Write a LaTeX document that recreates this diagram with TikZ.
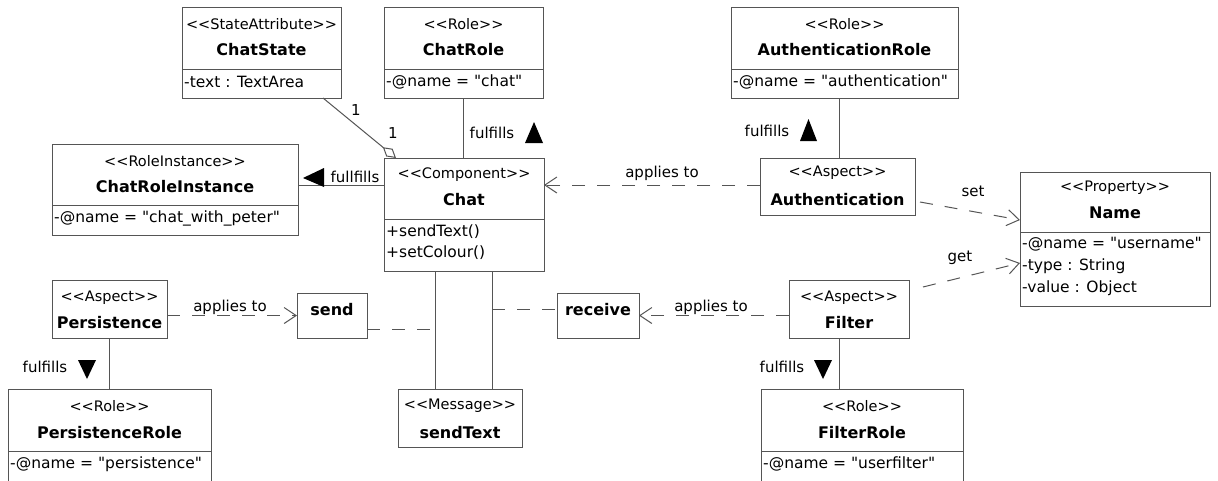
\documentclass[tikz,border=0pt]{standalone}
\usepackage{fontspec}
\setmainfont{DejaVu Sans}[Ligatures=TeXOff]
\usetikzlibrary{arrows.meta,fit,calc}
\definecolor{linec}{HTML}{555555}
\newcommand\ltlt{<\kern0pt<}
\newcommand\gtgt{>\kern0pt>}
\begin{document}
\begin{tikzpicture}[x=1pt,y=-1pt,
  box/.style={draw=linec, line width=1pt, inner sep=0pt, outer sep=0pt},
  st/.style={font=\fontsize{14.5}{16}\selectfont, inner sep=0pt},
  ttl/.style={font=\bfseries\fontsize{16}{18}\selectfont, inner sep=0pt},
  attr/.style={font=\fontsize{15.5}{18}\selectfont, inner sep=0pt, anchor=west},
  lbl/.style={font=\fontsize{15}{17}\selectfont, inner sep=0pt},
  assoc/.style={draw=linec, line width=1pt},
  dashln/.style={draw=linec, line width=1pt, dash pattern=on 13pt off 12pt},
  dep/.style={dashln, -{Straight Barb[length=12pt,width=16pt]}},
  tri/.style={fill=black}]
\useasboundingbox (0,0) rectangle (1218,480);
\fill[white] (0,0) rectangle (1218,480);
\clip (0,0) rectangle (1218,480);

% ---------- boxes ----------
\node[box, fit={(182,7) (341,98)}] (ChatState) {};
\draw[assoc] (ChatState.west |- 0,69) -- (ChatState.east |- 0,69);
\node[st] (ChatState-s) at (261.5,24) {\ltlt StateAttribute\gtgt};
\node[ttl] (ChatState-t) at (261.5,50) {ChatState};
\node[attr] (ChatState-a) at (184,82) {-text : TextArea};

\node[box, fit={(384,7) (543,98)}] (ChatRole) {};
\draw[assoc] (ChatRole.west |- 0,69) -- (ChatRole.east |- 0,69);
\node[st] (ChatRole-s) at (463.5,24) {\ltlt Role\gtgt};
\node[ttl] (ChatRole-t) at (463.5,50) {ChatRole};
\node[attr] (ChatRole-a) at (386,82) {-@name = "chat"};

\node[box, fit={(731,7) (958,98)}] (AuthRole) {};
\draw[assoc] (AuthRole.west |- 0,69) -- (AuthRole.east |- 0,69);
\node[st] (AuthRole-s) at (844.5,24) {\ltlt Role\gtgt};
\node[ttl] (AuthRole-t) at (844.5,50) {AuthenticationRole};
\node[attr] (AuthRole-a) at (733,82) {-@name = "authentication"};

\node[box, fit={(52,144) (298,235)}] (CRI) {};
\draw[assoc] (CRI.west |- 0,205) -- (CRI.east |- 0,205);
\node[st] (CRI-s) at (175,161) {\ltlt RoleInstance\gtgt};
\node[ttl] (CRI-t) at (175,187) {ChatRoleInstance};
\node[attr] (CRI-a) at (54,218) {-@name = "chat\_with\_peter"};

\node[box, fit={(384,158) (544,271)}] (Chat) {};
\draw[assoc] (Chat.west |- 0,219) -- (Chat.east |- 0,219);
\node[st] (Chat-s) at (464,175) {\ltlt Component\gtgt};
\node[ttl] (Chat-t) at (464,200) {Chat};
\node[attr] (Chat-a1) at (386,232) {+sendText()};
\node[attr] (Chat-a2) at (386,253) {+setColour()};

\node[box, fit={(760,158) (915,215)}] (Auth) {};
\node[st] (Auth-s) at (837.5,173) {\ltlt Aspect\gtgt};
\node[ttl] (Auth-t) at (837.5,200) {Authentication};

\node[box, fit={(1020,172) (1210,306)}] (Name) {};
\draw[assoc] (Name.west |- 0,232) -- (Name.east |- 0,232);
\node[st] (Name-s) at (1115,188) {\ltlt Property\gtgt};
\node[ttl] (Name-t) at (1115,213) {Name};
\node[attr] (Name-a1) at (1022,244) {-@name = "username"};
\node[attr] (Name-a2) at (1022,266) {-type : String};
\node[attr] (Name-a3) at (1022,288) {-value : Object};

\node[box, fit={(52,280) (167,338)}] (Pers) {};
\node[st] (Pers-s) at (109.5,298) {\ltlt Aspect\gtgt};
\node[ttl] (Pers-t) at (109.5,323) {Persistence};

\node[box, fit={(297,293) (367,338)}] (send) {};
\node[ttl] (send-t) at (332,310) {send};

\node[box, fit={(557,293) (639,338)}] (receive) {};
\node[ttl] (receive-t) at (598,310) {receive};

\node[box, fit={(789,280) (909,338)}] (Filter) {};
\node[st] (Filter-s) at (849,298) {\ltlt Aspect\gtgt};
\node[ttl] (Filter-t) at (849,323) {Filter};

\node[box, fit={(8,389) (211,500)}] (PersRole) {};
\draw[assoc] (PersRole.west |- 0,451) -- (PersRole.east |- 0,451);
\node[st] (PersRole-s) at (109.5,406) {\ltlt Role\gtgt};
\node[ttl] (PersRole-t) at (109.5,433) {PersistenceRole};
\node[attr] (PersRole-a) at (10,464) {-@name = "persistence"};

\node[box, fit={(398,389) (522,447)}] (sendText) {};
\node[st] (sendText-s) at (460,406) {\ltlt Message\gtgt};
\node[ttl] (sendText-t) at (460,433) {sendText};

\node[box, fit={(761,389) (963,500)}] (FilterRole) {};
\draw[assoc] (FilterRole.west |- 0,451) -- (FilterRole.east |- 0,451);
\node[st] (FilterRole-s) at (862,406) {\ltlt Role\gtgt};
\node[ttl] (FilterRole-t) at (862,433) {FilterRole};
\node[attr] (FilterRole-a) at (763,464) {-@name = "userfilter"};

% ---------- connectors ----------
% aggregation ChatState - Chat
\draw[assoc, {Diamond[open,length=17pt,width=10pt]}-]
  ($(Chat.north west)+(12,0)$) -- ($(ChatState.south west)+(141,0)$);
\node[lbl] (one-a) at (356,110) {1};
\node[lbl] (one-b) at (393,133) {1};

% ChatRole - Chat
\draw[assoc] (ChatRole.south) -- (ChatRole.south |- Chat.north);
\node[lbl] (f1) at (492,133) {fulfills};
\fill[tri] (534,122) -- (543,143) -- (525,143) -- cycle;

% ChatRoleInstance - Chat
\draw[assoc] (CRI.east |- 0,185) -- (Chat.west |- 0,185);
\node[lbl] (f2) at (355,177) {fullfills};
\fill[tri] (303,178) -- (324,168) -- (324,187) -- cycle;

% Authentication -> Chat
\draw[dep] (Auth.west |- 0,185) -- (Chat.east |- 0,185);
\node[lbl] (ap1) at (662,173) {applies to};

% AuthenticationRole - Authentication
\draw[assoc] (Auth.north -| 839,0) -- (AuthRole.south -| 839,0);
\node[lbl] (f3) at (767,131) {fulfills};
\fill[tri] (808.5,119) -- (817,141) -- (800,141) -- cycle;

% Authentication -> Name (set)
\draw[dep] ($(Auth.east)+(5,15.5)$) -- ($(Name.north west)+(0,48)$);
\node[lbl] (set) at (973,191) {set};

% Filter -> Name (get)
\draw[dep] ($(Filter.east)+(14,-22)$) -- ($(Name.north west)+(0,91)$);
\node[lbl] (get) at (960,258) {get};

% Persistence -> send
\draw[dep] (Pers.east |- send.west) -- (send.west);
\node[lbl] (ap2) at (230,307) {applies to};

% Chat - sendText (two lines)
\coordinate (v1) at (435,0);
\coordinate (v2) at (492,0);
\draw[assoc] (Chat.south -| v1) -- (sendText.north -| v1);
\draw[assoc] (Chat.south -| v2) -- (sendText.north -| v2);
\coordinate (j1) at (435,329);
\coordinate (j2) at (492,309);
\draw[dashln] (send.east |- j1) -- (j1);
\draw[dashln] (j2) -- (receive.west |- j2);

% Filter -> receive
\draw[dep] (Filter.west |- receive.east) -- (receive.east);
\node[lbl] (ap3) at (711,307) {applies to};

% Persistence - PersistenceRole
\draw[assoc] (Pers.south) -- (Pers.south |- PersRole.north);
\node[lbl] (f4) at (45,367) {fulfills};
\fill[tri] (78,360) -- (96,360) -- (87,379) -- cycle;

% Filter - FilterRole
\draw[assoc] (Filter.south -| 839,0) -- (FilterRole.north -| 839,0);
\node[lbl] (f5) at (782,367) {fulfills};
\fill[tri] (814,360) -- (832,360) -- (823,379) -- cycle;
\end{tikzpicture}
\end{document}
